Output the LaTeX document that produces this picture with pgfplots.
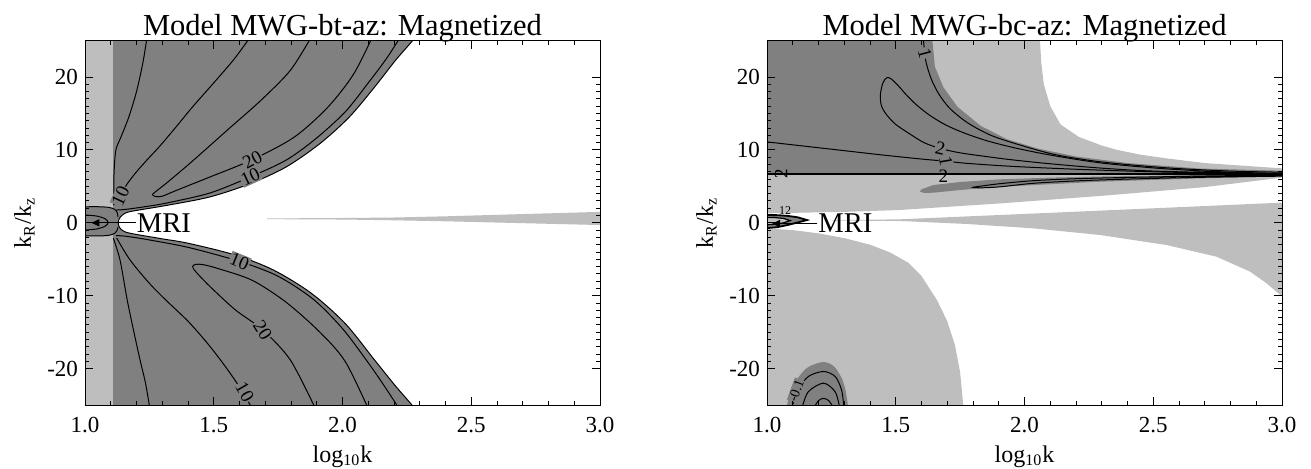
\documentclass[border=0pt]{standalone}
\usepackage{pgfplots}
\pgfplotsset{compat=1.18}
\usepackage{fontspec}
\setmainfont{Liberation Serif}
\usetikzlibrary{arrows.meta}
\definecolor{lg}{RGB}{190,190,190}
\definecolor{dg}{RGB}{128,128,128}
\tikzset{lab/.style={font=\fontsize{9.5}{10}\selectfont, fill=dg, inner sep=0.4pt},
  cl/.style={black, line width=0.5pt, smooth}}
\pgfplotsset{myax/.style={
  width=257.5pt, height=182.2pt, scale only axis,
  xmin=1, xmax=3, ymin=-25, ymax=25,
  xtick={1,1.5,2,2.5,3}, xticklabels={1.0,1.5,2.0,2.5,3.0},
  ytick={-20,-10,0,10,20}, yticklabels={-20,-10,0,10,20},
  minor x tick num=4, minor y tick num=9,
  tick align=inside, xtick pos=both, ytick pos=both,
  major tick length=4pt, minor tick length=2.2pt,
  tick style={black, line width=0.45pt},
  axis line style={line width=0.5pt},
  ticklabel style={font=\fontsize{11.5}{13}\selectfont},
  /pgf/number format/assume math mode=true,
  xticklabel style={yshift=-2.5pt},
  every axis title shift=0pt,
  title style={font=\fontsize{15.25}{18}\selectfont, at={(0.5,1)}, anchor=base, yshift=2.8pt},
  xlabel={log\textsubscript{10}k},
  ylabel={k\textsubscript{R}/k\textsubscript{z}},
  label style={font=\fontsize{12}{14}\selectfont},
  xlabel style={at={(axis description cs:0.5,0)}, anchor=base, yshift=-28.5pt},
  ylabel style={at={(axis description cs:-0.105,0.5)}, anchor=base},
  axis on top, clip=true}
}
\begin{document}
\begin{tikzpicture}
% ================= LEFT =================
\begin{axis}[myax, at={(0,0)}, anchor=south west, title={Model MWG-bt-az: Magnetized}]
\addplot[fill=dg, draw=none] coordinates {(1.11,-26) (3.1,-26) (3.1,26) (1.11,26)} -- cycle;
\addplot[fill=white, draw=none, smooth] coordinates {
 (2.30,26.5) (2.272,25) (2.206,22.3) (2.124,18.6) (2.026,14.5) (1.912,10.86) (1.781,7.66) (1.642,5.38) (1.486,3.56) (1.322,2.42) (1.20,1.7) (1.16,1.4) (1.14,0.9) (1.131,0.4) (1.129,0) (1.131,-0.4) (1.14,-0.9) (1.16,-1.3) (1.20,-1.6) (1.30,-2.2) (1.404,-2.83) (1.584,-4.43) (1.732,-6.48) (1.879,-9.67) (2.01,-13.8) (2.124,-18.8) (2.206,-22.4) (2.272,-25.1) (2.30,-26.5) (3.1,-26.5) (3.1,26.5)} -- cycle;
\addplot[fill=lg, draw=none] coordinates {(0.98,-26) (1.11,-26) (1.11,26) (0.98,26)} -- cycle;
% light wedge
\addplot[fill=lg, draw=none] coordinates {(1.707,0.6) (2.0,0.66) (2.19,0.72) (2.41,0.9) (2.7,1.2) (3.05,1.55) (3.05,-0.35) (2.7,-0.05) (2.41,0.2) (2.19,0.35) (2.0,0.45) (1.707,0.5)} -- cycle;
% MRI region
\addplot[fill=dg, draw=none] coordinates {(0.98,2.2) (1.07,2.2) (1.105,2.0) (1.125,1.6) (1.125,-1.2) (1.105,-1.6) (1.07,-1.8) (0.98,-1.8)} -- cycle;
\addplot[cl] coordinates {(1.0,2.2) (1.06,2.2) (1.095,2.1) (1.115,1.85) (1.125,1.4) (1.128,0.8)};
\addplot[cl] coordinates {(1.0,-1.8) (1.06,-1.8) (1.095,-1.7) (1.115,-1.45) (1.125,-1.0) (1.128,-0.6)};
\addplot[cl] coordinates {(1.0,1.07) (1.045,0.93) (1.078,0.555) (1.09,0.04) (1.078,-0.475) (1.045,-0.85) (1.0,-0.99)};
% boundary
\addplot[cl] coordinates {
 (2.30,26.5) (2.272,25) (2.206,22.3) (2.124,18.6) (2.026,14.5) (1.912,10.86) (1.781,7.66) (1.642,5.38) (1.486,3.56) (1.322,2.42) (1.20,1.7) (1.16,1.4) (1.14,0.9) (1.131,0.4) (1.129,0) (1.131,-0.4) (1.14,-0.9) (1.16,-1.3) (1.20,-1.6) (1.30,-2.2) (1.404,-2.83) (1.584,-4.43) (1.732,-6.48) (1.879,-9.67) (2.01,-13.8) (2.124,-18.8) (2.206,-22.4) (2.272,-25.1) (2.30,-26.5)};
% upper lobe contours
\addplot[cl] coordinates {(1.241,25.5) (1.225,22) (1.2,18) (1.17,14.5) (1.14,11.8) (1.12,10) (1.113,7) (1.112,4) (1.115,2.5)};
\addplot[cl] coordinates {(1.642,25.5) (1.58,22.5) (1.5,19.2) (1.42,16) (1.35,13) (1.29,10.5) (1.24,8.6) (1.2,7) (1.165,5.4) (1.14,3.9) (1.125,3.0) (1.11,2.45)};
\addplot[cl] coordinates {(1.879,25.5) (1.797,20.9) (1.683,16.8) (1.552,12.7) (1.421,8.58) (1.322,5.61) (1.273,4.24) (1.262,3.85) (1.275,3.6) (1.30,3.65) (1.355,4.45) (1.486,6.3) (1.65,8.67) (1.813,11.77) (1.944,15.9) (2.043,20.4) (2.116,25.5)};
\addplot[cl] coordinates {(1.12,1.75) (1.16,1.85) (1.25,2.3) (1.322,2.75) (1.486,4.1) (1.642,6.3) (1.781,8.6) (1.895,11.5) (2.01,15.2) (2.1,19.2) (2.17,22.5) (2.225,25.5)};
% lower lobe contours
\addplot[cl] coordinates {(1.11,-2.1) (1.136,-5.1) (1.164,-10.6) (1.19,-15) (1.215,-19) (1.235,-22) (1.252,-25.5)};
\addplot[cl] coordinates {(1.123,-2.1) (1.175,-5.1) (1.25,-8.3) (1.32,-10.8) (1.40,-13.5) (1.47,-16.3) (1.53,-19) (1.59,-22) (1.65,-25.5)};
\addplot[cl] coordinates {(1.895,-25.5) (1.797,-18.8) (1.69,-14.7) (1.584,-11.95) (1.486,-8.76) (1.43,-6.7) (1.418,-6.0) (1.43,-5.7) (1.46,-5.75) (1.519,-6.3) (1.65,-7.9) (1.781,-10.9) (1.912,-15.0) (2.01,-19.0) (2.1,-25.5)};
\addplot[cl] coordinates {(1.12,-1.75) (1.16,-1.85) (1.25,-2.35) (1.404,-3.4) (1.6,-5.3) (1.748,-7.3) (1.887,-10.5) (2.002,-14.6) (2.108,-19.6) (2.17,-22.8) (2.22,-25.5)};
% labels
\node[lab, rotate=28] at (axis cs:1.65,8.67) {20};
\node[lab, rotate=25] at (axis cs:1.642,6.3) {10};
\node[lab, rotate=65] at (axis cs:1.138,3.7) {10};
\node[lab, rotate=-22] at (axis cs:1.6,-5.3) {10};
\node[lab, rotate=-58] at (axis cs:1.69,-14.7) {20};
\node[lab, rotate=-60] at (axis cs:1.62,-23.2) {10};
% MRI
\addplot[black, line width=0.5pt, -{Triangle[length=4pt,width=3.6pt]}] coordinates {(1.198,0) (1.025,0)};
\node[anchor=west, inner sep=0pt, font=\fontsize{14.3}{16}\selectfont] at (axis cs:1.2,0) {MRI};
\end{axis}
% ================= RIGHT =================
\begin{axis}[myax, at={(341pt,0)}, anchor=south west, title={Model MWG-bc-az: Magnetized}]
% upper light
\addplot[fill=lg, draw=none] coordinates {(0.98,1.3) (0.98,25.5) (2.06,25.5) (2.06,25) (2.065,22) (2.075,19) (2.10,16) (2.14,13.5) (2.21,11.8) (2.30,10.6) (2.36,10.0) (2.45,9.35) (2.55,8.85) (2.7,8.2) (2.81,7.93) (3.0,7.47) (3.02,7.4) (3.02,6.2) (3.0,6.2) (2.7,4.9) (2.3,3.7) (1.9,2.65) (1.517,1.76) (1.3,1.5) (1.0,1.3)} -- cycle;
% dark upper-left
\addplot[fill=dg, draw=none] coordinates {(0.98,6.66) (0.98,25.5) (1.641,25.5) (1.652,21.4) (1.685,18.6) (1.74,15.9) (1.83,13.3) (1.93,11.5) (2.05,10.2) (2.2,9.1) (2.4,8.2) (2.68,7.45) (3.0,7.15) (3.02,7.15) (3.02,6.66)} -- cycle;
% dark sliver
\addplot[fill=dg, draw=none] coordinates {(1.594,4.27) (1.60,4.6) (1.646,5.18) (1.75,5.6) (1.905,5.97) (2.1,6.2) (2.293,6.35) (2.5,6.45) (2.68,6.55) (3.02,6.62) (3.02,6.4) (2.682,6.1) (2.293,5.64) (1.905,4.95) (1.75,4.5) (1.646,4.13) (1.61,4.1)} -- cycle;
% lower wedge
\addplot[fill=lg, draw=none] coordinates {(1.25,0.35) (1.517,0.48) (2.0,1.22) (2.5,1.99) (3.02,2.8) (3.02,-10.5) (3.0,-10.1) (2.94,-8.3) (2.876,-6.7) (2.746,-4.65) (2.552,-3.05) (2.293,-1.67) (2.034,-0.76) (1.776,-0.16) (1.517,0.25) (1.25,0.32)} -- cycle;
% lower-left light
\addplot[fill=lg, draw=none] coordinates {(0.98,-0.78) (1.0,-0.78) (1.1,-1.0) (1.2,-1.45) (1.3,-2.1) (1.4,-3.0) (1.48,-4.1) (1.55,-5.5) (1.6,-7.3) (1.66,-10.6) (1.70,-13.5) (1.73,-16.8) (1.75,-20.5) (1.762,-25) (1.765,-25.5) (0.98,-25.5)} -- cycle;
% dark arch
\addplot[fill=dg, draw=none, smooth] coordinates {(1.074,-25.5) (1.09,-23.5) (1.12,-21.3) (1.16,-19.8) (1.219,-19.1) (1.26,-19.7) (1.29,-21.3) (1.305,-23) (1.316,-25.5)} -- cycle;
\addplot[cl] coordinates {(1.095,-25.5) (1.12,-23) (1.16,-21.1) (1.219,-20.4) (1.265,-21.1) (1.29,-23) (1.299,-25.5)};
\addplot[cl] coordinates {(1.135,-25.5) (1.16,-23.2) (1.219,-22.0) (1.265,-23.2) (1.283,-25.5)};
\addplot[cl] coordinates {(1.18,-25.5) (1.20,-24.4) (1.219,-24.1) (1.24,-24.4) (1.26,-25.5)};
\node[lab, rotate=70, font=\fontsize{7}{8}\selectfont] at (axis cs:1.113,-23.0) {-0.1};
% contours upper
\addplot[cl] coordinates {(1.607,25.5) (1.615,22.5) (1.635,20) (1.665,17.8) (1.71,15.7) (1.78,13.7) (1.87,12.0) (1.98,10.7) (2.12,9.35) (2.3,8.35) (2.55,7.55) (2.8,7.1) (3.0,6.95)};
\addplot[cl] coordinates {(3.0,6.75) (2.8,6.85) (2.5,7.1) (2.3,7.5) (2.1,8.1) (1.95,8.65) (1.85,9.1) (1.75,9.6) (1.673,10.2) (1.61,11.0) (1.55,12.3) (1.50,13.5) (1.465,14.8) (1.445,16) (1.44,17.5) (1.45,19.2) (1.465,19.9) (1.48,19.8) (1.505,19) (1.54,17.6) (1.58,16.2) (1.63,14.8) (1.69,13.5) (1.76,12.4) (1.85,11.3) (1.96,10.3) (2.1,9.3) (2.3,8.2) (2.55,7.4) (2.8,6.95) (3.0,6.8)};
\addplot[cl] coordinates {(1.0,11.1) (1.15,10.5) (1.3,9.9) (1.45,9.3) (1.6,8.75) (1.695,8.45) (1.78,8.15) (1.95,7.75) (2.2,7.35) (2.5,7.0) (2.8,6.8) (3.0,6.72)};
\addplot[cl] coordinates {(3.0,6.55) (2.7,6.42) (2.42,6.24) (2.2,6.05) (2.034,5.78) (1.9,5.35) (1.82,4.98) (1.80,4.87) (1.83,4.8) (1.9,4.92) (2.034,5.42) (2.2,5.75) (2.42,6.02) (2.7,6.25) (3.0,6.4)};
\addplot[black, line width=1pt] coordinates {(1,6.66) (3,6.66)};
\node[lab, rotate=-75] at (axis cs:1.613,23.3) {1};
\node[lab, rotate=-12] at (axis cs:1.673,10.2) {2};
\node[lab, rotate=-80] at (axis cs:1.695,8.45) {1};
\node[inner sep=0pt, font=\fontsize{9.5}{10}\selectfont] at (axis cs:1.685,6.4) {2};
\node[inner sep=0pt, rotate=90, font=\fontsize{9.5}{10}\selectfont] at (axis cs:1.055,6.8) {2};
% MRI
\addplot[fill=dg, draw=black, line width=0.9pt] coordinates {(0.99,1.07) (1.04,1.05) (1.08,0.95) (1.12,0.75) (1.155,0.38) (1.12,0.05) (1.08,-0.3) (1.04,-0.6) (0.99,-0.76)};
\addplot[fill=lg, draw=black, line width=0.6pt] coordinates {(0.99,0.75) (1.03,0.72) (1.065,0.6) (1.09,0.3) (1.065,0.0) (1.03,-0.2) (0.99,-0.3)};
\node[inner sep=0pt, font=\fontsize{6}{7}\selectfont] at (axis cs:1.07,1.7) {12};
\addplot[black, line width=0.5pt, -{Triangle[length=4pt,width=3.6pt]}] coordinates {(1.196,-0.1) (1.02,-0.1)};
\node[anchor=west, inner sep=0pt, font=\fontsize{14.3}{16}\selectfont] at (axis cs:1.198,-0.1) {MRI};
\end{axis}
\pgfresetboundingbox
\path (-42.5pt,-31.5pt) rectangle (613pt,202.5pt);
\end{tikzpicture}
\end{document}
